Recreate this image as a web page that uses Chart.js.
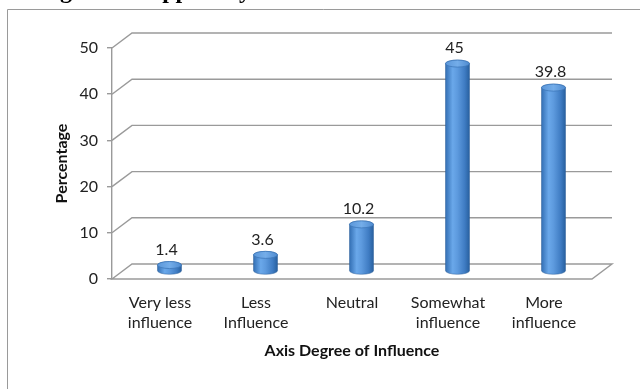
<!DOCTYPE html>
<html>
<head>
<meta charset="utf-8">
<script src="https://cdn.jsdelivr.net/npm/chart.js@4.4.1/dist/chart.umd.min.js"></script>
<style>
  html, body { margin: 0; padding: 0; background: #fff; }
  #wrap { position: relative; width: 640px; height: 389px; }
  canvas { display: block; }
</style>
</head>
<body>
<div id="wrap"><canvas id="chart" width="640" height="389"></canvas></div>
<script>
// Survey result: share of respondents by degree of influence
const categories = [
  ['Very less', 'influence'],
  ['Less', 'Influence'],
  ['Neutral'],
  ['Somewhat', 'influence'],
  ['More', 'influence']
];
const percentages = [1.4, 3.6, 10.2, 45, 39.8];
const yTickValues = [0, 10, 20, 30, 40, 50];
const yAxisTitle = 'Percentage';
const xAxisTitle = 'Axis Degree of Influence';
const headingText = 'Degree of Support by';

const FONT = 'Lato, "Open Sans", sans-serif';
const DEPTH_X = 20;   // back wall offset (px)
const DEPTH_Y = 15;
const GRID = '#9a9a9a';

// Draws the 3D frame: page border, floor, back-wall gridlines, cylinders and value labels
const frame3d = {
  id: 'frame3d',
  beforeDraw(chart) {
    const { ctx, width, height } = chart;
    ctx.save();
    ctx.fillStyle = '#fff';
    ctx.fillRect(0, 0, width, height);
    // heading line of the page above the figure (mostly cut off)
    ctx.fillStyle = '#000';
    ctx.font = 'bold 24px "Liberation Serif", serif';
    ctx.textBaseline = 'alphabetic';
    ctx.textAlign = 'left';
    ctx.fillText(headingText, 32, -2);
    // figure border
    ctx.strokeStyle = GRID;
    ctx.lineWidth = 1;
    ctx.beginPath();
    ctx.moveTo(7.5, height);
    ctx.lineTo(7.5, 9.5);
    ctx.lineTo(width, 9.5);
    ctx.stroke();
    ctx.restore();
  },
  beforeDatasetsDraw(chart) {
    const { ctx, chartArea: a, scales: { y } } = chart;
    ctx.save();
    ctx.strokeStyle = GRID;
    ctx.lineWidth = 1.4;
    ctx.lineJoin = 'miter';
    const y0 = y.getPixelForValue(0);
    // floor
    ctx.beginPath();
    ctx.moveTo(a.left, y0);
    ctx.lineTo(a.left + DEPTH_X, y0 - DEPTH_Y);
    ctx.lineTo(a.right + DEPTH_X, y0 - DEPTH_Y);
    ctx.lineTo(a.right, y0);
    ctx.closePath();
    ctx.stroke();
    // gridlines on the back wall, joined to the axis by a short diagonal
    y.ticks.forEach(t => {
      if (t.value === 0) return;
      const py = y.getPixelForValue(t.value);
      ctx.beginPath();
      ctx.moveTo(a.left, py);
      ctx.lineTo(a.left + DEPTH_X, py - DEPTH_Y);
      ctx.lineTo(a.right + DEPTH_X, py - DEPTH_Y);
      ctx.stroke();
    });
    ctx.restore();
  },
  afterDatasetsDraw(chart) {
    const { ctx } = chart;
    const meta = chart.getDatasetMeta(0);
    const values = chart.data.datasets[0].data;
    ctx.save();
    meta.data.forEach((bar, i) => {
      const r = bar.width / 2;
      const ry = 3.5;
      const cx = bar.x + DEPTH_X / 2 - 0.5;
      const top = bar.y - DEPTH_Y / 2;
      const bottom = bar.base - DEPTH_Y / 2;

      // body
      const g = ctx.createLinearGradient(cx - r, 0, cx + r, 0);
      g.addColorStop(0, '#336fb4');
      g.addColorStop(0.3, '#6aa8ea');
      g.addColorStop(0.5, '#5d9ade');
      g.addColorStop(0.8, '#3f7cc3');
      g.addColorStop(1, '#28609f');
      ctx.beginPath();
      ctx.moveTo(cx - r, top);
      ctx.lineTo(cx - r, bottom);
      ctx.ellipse(cx, bottom, r, ry, 0, Math.PI, 0, true);
      ctx.lineTo(cx + r, top);
      ctx.ellipse(cx, top, r, ry, 0, 0, Math.PI, true);
      ctx.closePath();
      ctx.fillStyle = g;
      ctx.fill();
      ctx.strokeStyle = 'rgba(40,90,150,0.6)';
      ctx.lineWidth = 0.8;
      ctx.stroke();

      // top cap
      const cg = ctx.createLinearGradient(cx - r, 0, cx + r, 0);
      cg.addColorStop(0, '#5b97da');
      cg.addColorStop(0.5, '#74ade9');
      cg.addColorStop(1, '#4f8bd0');
      ctx.beginPath();
      ctx.ellipse(cx, top, r, ry, 0, 0, Math.PI * 2);
      ctx.fillStyle = cg;
      ctx.fill();
      ctx.strokeStyle = '#3f78ba';
      ctx.lineWidth = 0.8;
      ctx.stroke();

      // value label
      ctx.fillStyle = '#222';
      ctx.font = '16px ' + FONT;
      ctx.textAlign = 'center';
      ctx.textBaseline = 'middle';
      ctx.fillText(String(values[i]), cx - 3, top - 15.5);
    });
    ctx.restore();
  }
};

new Chart(document.getElementById('chart'), {
  type: 'bar',
  data: {
    labels: categories,
    datasets: [{
      data: percentages,
      backgroundColor: 'rgba(0,0,0,0)',
      borderWidth: 0,
      categoryPercentage: 1,
      barPercentage: 0.25
    }]
  },
  options: {
    responsive: false,
    animation: false,
    devicePixelRatio: 1,
    layout: { padding: { left: 0, top: 48, right: 48, bottom: 0 } },
    plugins: {
      legend: { display: false },
      tooltip: { enabled: false }
    },
    scales: {
      x: {
        afterFit(scale) { scale.height = 110; },
        grid: { display: false, drawTicks: false },
        border: { display: false },
        ticks: {
          color: '#222',
          padding: 13,
          maxRotation: 0,
          autoSkip: false,
          font: { family: FONT, size: 16, lineHeight: 1.3 }
        },
        title: {
          display: true,
          text: xAxisTitle,
          color: '#111',
          padding: { top: 0, bottom: 29 },
          font: { family: FONT, size: 16, weight: 'bold', lineHeight: 1.2 }
        }
      },
      y: {
        min: 0,
        max: 50,
        afterFit(scale) { scale.width = 112; },
        afterBuildTicks(scale) { scale.ticks = yTickValues.map(v => ({ value: v })); },
        grid: {
          drawOnChartArea: false,
          drawTicks: true,
          tickLength: 5,
          color: GRID,
          lineWidth: 1.4
        },
        border: { display: true, color: GRID, width: 1.4 },
        ticks: {
          color: '#222',
          padding: 9,
          font: { family: FONT, size: 16 }
        },
        title: {
          display: true,
          text: yAxisTitle,
          color: '#111',
          padding: { top: 52, bottom: 0 },
          font: { family: FONT, size: 16, weight: 'bold', lineHeight: 1.2 }
        }
      }
    }
  },
  plugins: [frame3d]
});
</script>
</body>
</html>
